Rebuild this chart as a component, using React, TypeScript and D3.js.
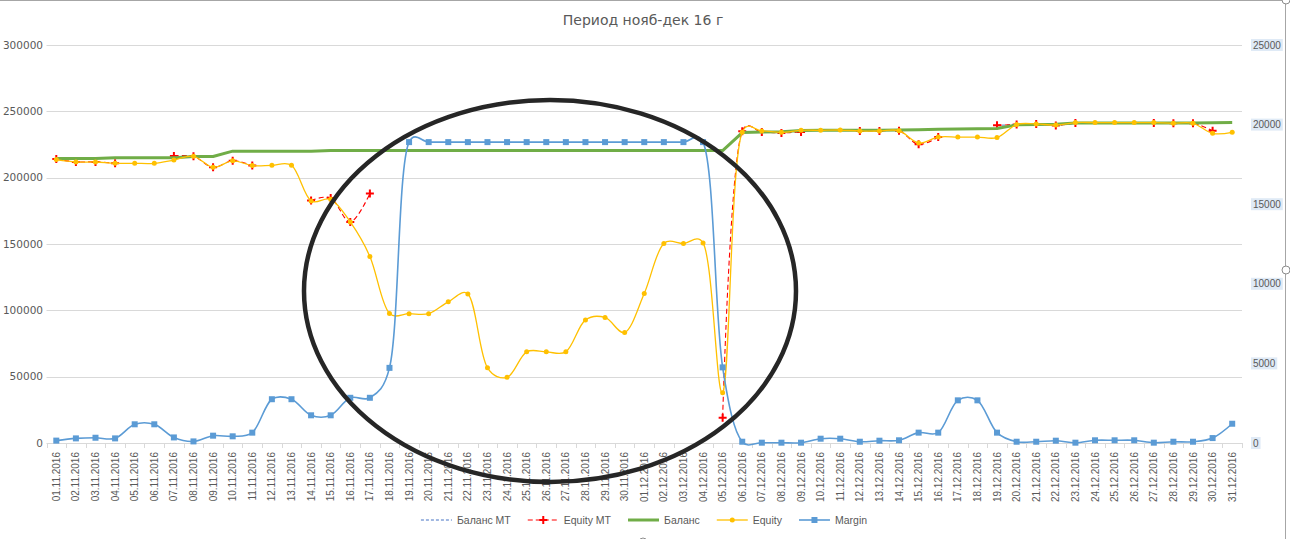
import React, { useEffect, useRef } from 'react';
import * as d3 from 'd3';

const dates = [
  '01.11.2016', '02.11.2016', '03.11.2016', '04.11.2016', '05.11.2016', '06.11.2016', '07.11.2016', '08.11.2016',
  '09.11.2016', '10.11.2016', '11.11.2016', '12.11.2016', '13.11.2016', '14.11.2016', '15.11.2016', '16.11.2016',
  '17.11.2016', '18.11.2016', '19.11.2016', '20.11.2016', '21.11.2016', '22.11.2016', '23.11.2016', '24.11.2016',
  '25.11.2016', '26.11.2016', '27.11.2016', '28.11.2016', '29.11.2016', '30.11.2016', '01.12.2016', '02.12.2016',
  '03.12.2016', '04.12.2016', '05.12.2016', '06.12.2016', '07.12.2016', '08.12.2016', '09.12.2016', '10.12.2016',
  '11.12.2016', '12.12.2016', '13.12.2016', '14.12.2016', '15.12.2016', '16.12.2016', '17.12.2016', '18.12.2016',
  '19.12.2016', '20.12.2016', '21.12.2016', '22.12.2016', '23.12.2016', '24.12.2016', '25.12.2016', '26.12.2016',
  '27.12.2016', '28.12.2016', '29.12.2016', '30.12.2016', '31.12.2016'
];

// Баланс (left axis)
const balance = [
  214500, 214500, 214500, 215000, 215000, 215000, 215100, 216000, 216000, 220000, 220000, 220000, 220000, 220000,
  220400, 220400, 220400, 220400, 220400, 220400, 220400, 220400, 220400, 220400, 220400, 220400, 220400, 220400,
  220400, 220400, 220400, 220400, 220400, 220400, 220400, 234000, 234400, 234700, 235500, 235700, 235800, 235800,
  235800, 235900, 236200, 236500, 236700, 236900, 237100, 239800, 240000, 240300, 241200, 241200, 241200, 241200,
  241200, 241200, 241200, 241400, 241500
];

// Баланс МТ (left axis, gaps on days without data)
const balanceMT: (number | null)[] = [
  214500, 214500, 214500, 215000, null, null, 215100, 216000, 216000, 220000, 220000, null, null, 220000,
  220400, 220400, 220400, null, null, null, null, null, null, null, null, null, null, null,
  null, null, null, null, null, null, 220400, 234000, 234400, 234700, 235500, null, null, 235800,
  235800, 235900, 236200, 236500, null, null, 239500, 239800, 240000, 240300, 241200, null, null, null,
  241200, 241200, 241200, 241400, null
];

// Equity (left axis)
const equity = [
  213600, 211800, 211800, 210800, 210800, 210800, 213300, 216100, 207800, 212700, 209100, 209300, 209300, 182500,
  183700, 166600, 140600, 97700, 97500, 97500, 106400, 112400, 56700, 49500, 68700, 68700, 68700, 92800,
  94600, 83300, 112700, 150400, 150400, 150800, 37900, 234200, 235200, 234200, 235700, 235700, 235900, 235200,
  235200, 235400, 226100, 230600, 230600, 230600, 230200, 240000, 240500, 239700, 241500, 241500, 241500, 241500,
  241500, 241000, 241000, 233400, 234200
];

// Equity МТ (left axis)
const equityMT: (number | null)[] = [
  214000, 211900, 211900, 210800, null, null, 216300, 216100, 207800, 212800, 209100, null, null, 182800,
  184700, 166600, 188000, null, null, null, null, null, null, null, null, null, null, null,
  null, null, null, null, null, null, 19100, 235000, 234400, 233700, 234500, null, null, 235200,
  235200, 235400, 225100, 230600, null, null, 239500, 240000, 240500, 239300, 241300, null, null, null,
  241300, 241100, 241100, 235300, null
];

// Margin (right axis)
const margin = [
  150, 290, 330, 290, 1175, 1175, 350, 100, 460, 420, 650, 2750, 2750, 1740,
  1740, 2840, 2840, 4720, 18900, 18900, 18900, 18900, 18900, 18900, 18900, 18900, 18900, 18900,
  18900, 18900, 18900, 18900, 18900, 18900, 4750, 80, 20, 20, 20, 270, 270, 80,
  145, 170, 650, 650, 2680, 2680, 650, 80, 80, 145, 20, 170, 170, 170,
  20, 80, 80, 310, 1210
];

const leftTicks = [0, 50000, 100000, 150000, 200000, 250000, 300000];
const rightTicks = [0, 5000, 10000, 15000, 20000, 25000];
const title = 'Период нояб-дек 16 г';

const W = 1290;
const H = 539;

const App: React.FC = () => {
  const svgRef = useRef<SVGSVGElement>(null);

  useEffect(() => {
    if (!svgRef.current) return;
    const svg = d3.select(svgRef.current);
    svg.selectAll('*').remove();

    const plot = { left: 46.5, right: 1242, top: 45, bottom: 443 };
    const textColor = '#595959';
    // Excel-like smoothing
    const smooth = d3.curveCatmullRom.alpha(0.3);

    const x = d3.scaleBand<string>().domain(dates).range([plot.left, plot.right]);
    const cx = (i: number) => (x(dates[i]) ?? 0) + x.bandwidth() / 2;
    const yL = d3.scaleLinear().domain([0, 300000]).range([plot.bottom, plot.top]);
    const yR = d3.scaleLinear().domain([0, 25000]).range([plot.bottom, plot.top]);

    svg.append('rect').attr('width', W).attr('height', H).attr('fill', '#fff');

    // Title
    svg.append('text')
      .attr('x', 643)
      .attr('y', 25)
      .attr('text-anchor', 'middle')
      .style('font-family', 'DejaVu Sans')
      .style('font-size', '14px')
      .style('fill', textColor)
      .text(title);

    // Grid + left axis
    leftTicks.forEach(t => {
      svg.append('line')
        .attr('x1', plot.left).attr('x2', plot.right)
        .attr('y1', Math.round(yL(t)) + 0.5).attr('y2', Math.round(yL(t)) + 0.5)
        .attr('stroke', '#d9d9d9').attr('stroke-width', 1);
      svg.append('text')
        .attr('x', 43)
        .attr('y', yL(t))
        .attr('dy', '0.35em')
        .attr('text-anchor', 'end')
        .style('font-family', 'DejaVu Sans')
        .style('font-size', '10.5px')
        .style('fill', textColor)
        .text(String(t));
    });

    // Right axis (labels with highlight)
    rightTicks.forEach(t => {
      const g = svg.append('g');
      const bg = g.append('rect').attr('fill', '#dfeaf6');
      const txt = g.append('text')
        .attr('x', 1253)
        .attr('y', yR(t))
        .attr('dy', '0.35em')
        .style('font-family', 'Liberation Sans')
        .style('font-size', '10px')
        .style('fill', textColor)
        .text(String(t));
      const w = (txt.node() as SVGTextElement).getComputedTextLength();
      bg.attr('x', 1251).attr('y', yR(t) - 6).attr('width', w + 4).attr('height', 12);
    });

    // X ticks
    const bounds = dates.map(d => x(d) ?? 0).concat([plot.right]);
    svg.append('g').selectAll('line')
      .data(bounds)
      .join('line')
      .attr('x1', d => Math.round(d) + 0.5).attr('x2', d => Math.round(d) + 0.5)
      .attr('y1', plot.bottom).attr('y2', plot.bottom + 5)
      .attr('stroke', '#d9d9d9');

    svg.append('g').selectAll('text')
      .data(dates)
      .join('text')
      .attr('transform', (d, i) => `translate(${cx(i)},${plot.bottom + 9}) rotate(-90)`)
      .attr('dy', '0.35em')
      .attr('text-anchor', 'end')
      .style('font-family', 'Liberation Sans')
      .style('font-size', '10px')
      .style('fill', textColor)
      .text(d => d);

    type P = { x: number; v: number | null };
    const pts = (vals: (number | null)[]): P[] => vals.map((v, i) => ({ x: cx(i), v }));
    const lineOn = (scale: d3.ScaleLinear<number, number>, curve: d3.CurveFactory) =>
      d3.line<P>()
        .defined(d => d.v != null)
        .x(d => d.x)
        .y(d => scale(d.v as number))
        .curve(curve);

    // Баланс МТ
    svg.append('path')
      .attr('d', lineOn(yL, d3.curveLinear)(pts(balanceMT)))
      .attr('fill', 'none')
      .attr('stroke', '#4472c4')
      .attr('stroke-width', 1)
      .attr('stroke-dasharray', '3,2');

    // Equity МТ
    svg.append('path')
      .attr('d', lineOn(yL, smooth)(pts(equityMT)))
      .attr('fill', 'none')
      .attr('stroke', '#ff0000')
      .attr('stroke-width', 1.1)
      .attr('stroke-dasharray', '5,3');
    const plusG = svg.append('g');
    pts(equityMT).filter(p => p.v != null).forEach(p => {
      const py = yL(p.v as number);
      plusG.append('path')
        .attr('d', `M${p.x - 4},${py}H${p.x + 4}M${p.x},${py - 4}V${py + 4}`)
        .attr('stroke', '#ff0000')
        .attr('stroke-width', 2);
    });

    // Баланс
    svg.append('path')
      .attr('d', lineOn(yL, d3.curveLinear)(pts(balance)))
      .attr('fill', 'none')
      .attr('stroke', '#70ad47')
      .attr('stroke-width', 3)
      .attr('stroke-linejoin', 'round');

    // Equity
    svg.append('path')
      .attr('d', lineOn(yL, smooth)(pts(equity)))
      .attr('fill', 'none')
      .attr('stroke', '#ffc000')
      .attr('stroke-width', 1.3);
    svg.append('g').selectAll('circle')
      .data(pts(equity))
      .join('circle')
      .attr('cx', d => d.x)
      .attr('cy', d => yL(d.v as number))
      .attr('r', 2.5)
      .attr('fill', '#ffc000');

    // Margin
    svg.append('path')
      .attr('d', lineOn(yR, smooth)(pts(margin)))
      .attr('fill', 'none')
      .attr('stroke', '#5b9bd5')
      .attr('stroke-width', 1.6);
    svg.append('g').selectAll('rect')
      .data(pts(margin))
      .join('rect')
      .attr('x', d => d.x - 3)
      .attr('y', d => yR(d.v as number) - 3)
      .attr('width', 6)
      .attr('height', 6)
      .attr('fill', '#5b9bd5');

    // Hand-drawn annotation ellipse
    svg.append('ellipse')
      .attr('cx', 550)
      .attr('cy', 291)
      .attr('rx', 246)
      .attr('ry', 191)
      .attr('fill', 'none')
      .attr('stroke', '#262626')
      .attr('stroke-width', 4.5);

    // Legend
    const legendItems = [
      { name: 'Баланс МТ', kind: 'bmt' },
      { name: 'Equity МТ', kind: 'emt' },
      { name: 'Баланс', kind: 'bal' },
      { name: 'Equity', kind: 'eq' },
      { name: 'Margin', kind: 'mg' }
    ];
    const ly = 520;
    const legend = svg.append('g');
    let lx = 0;
    legendItems.forEach(item => {
      const g = legend.append('g').attr('transform', `translate(${lx},0)`);
      const l = g.append('line').attr('x1', 0).attr('x2', 31).attr('y1', ly).attr('y2', ly);
      if (item.kind === 'bmt') {
        l.attr('stroke', '#4472c4').attr('stroke-width', 1).attr('stroke-dasharray', '3,2');
      } else if (item.kind === 'emt') {
        l.attr('stroke', '#ff0000').attr('stroke-width', 1.1).attr('stroke-dasharray', '5,3');
        g.append('path').attr('d', `M11.5,${ly}H19.5M15.5,${ly - 4}V${ly + 4}`).attr('stroke', '#ff0000').attr('stroke-width', 2);
      } else if (item.kind === 'bal') {
        l.attr('stroke', '#70ad47').attr('stroke-width', 3);
      } else if (item.kind === 'eq') {
        l.attr('stroke', '#ffc000').attr('stroke-width', 1.3);
        g.append('circle').attr('cx', 15.5).attr('cy', ly).attr('r', 2.5).attr('fill', '#ffc000');
      } else {
        l.attr('stroke', '#5b9bd5').attr('stroke-width', 1.6);
        g.append('rect').attr('x', 12.5).attr('y', ly - 3).attr('width', 6).attr('height', 6).attr('fill', '#5b9bd5');
      }
      const t = g.append('text')
        .attr('x', 36)
        .attr('y', ly)
        .attr('dy', '0.35em')
        .style('font-family', 'Liberation Sans')
        .style('font-size', '10.5px')
        .style('fill', textColor)
        .text(item.name);
      lx += 36 + (t.node() as SVGTextElement).getComputedTextLength() + 17;
    });
    const legendW = lx - 17;
    legend.attr('transform', `translate(${644 - legendW / 2},0)`);

    // Chart frame & selection handles
    svg.append('line').attr('x1', 0).attr('x2', 1286).attr('y1', 0.5).attr('y2', 0.5).attr('stroke', '#a6a6a6');
    svg.append('line').attr('x1', 1285.5).attr('x2', 1285.5).attr('y1', 0).attr('y2', H).attr('stroke', '#a6a6a6');
    [[1286, 270], [643, 542], [1286, 0]].forEach(([hx, hy]) => {
      svg.append('circle').attr('cx', hx).attr('cy', hy).attr('r', 4)
        .attr('fill', '#fff').attr('stroke', '#8c8c8c');
    });
  }, []);

  return (
    <svg
      ref={svgRef}
      width={W}
      height={H}
      style={{ position: 'absolute', left: 0, top: 0, display: 'block' }}
    />
  );
};

export default App;
